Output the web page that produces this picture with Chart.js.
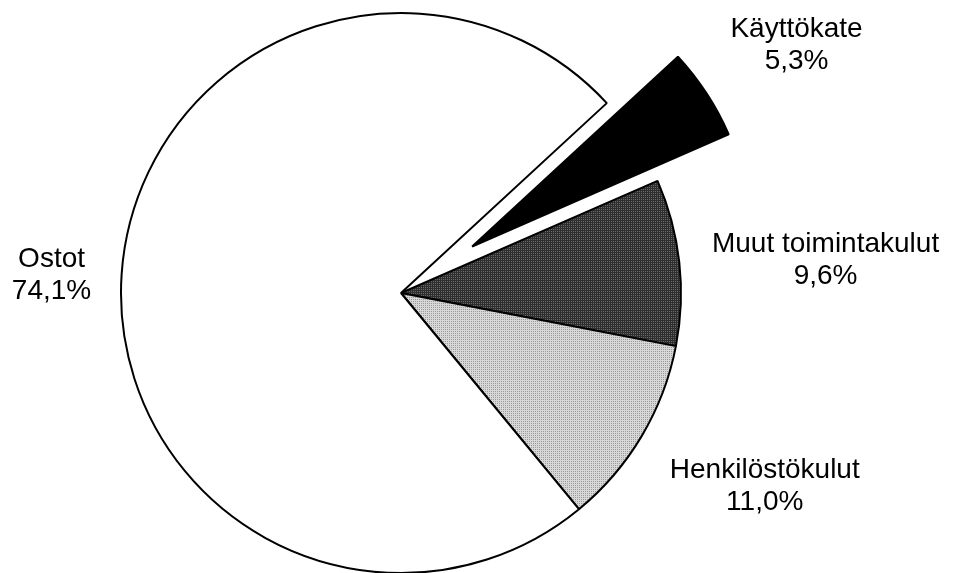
<!DOCTYPE html>
<html>
<head>
<meta charset="utf-8">
<script src="https://cdn.jsdelivr.net/npm/chart.js@4/dist/chart.umd.min.js"></script>
<style>
html, body { margin: 0; padding: 0; background: #ffffff; }
#wrap { width: 953px; height: 573px; position: relative; }
</style>
</head>
<body>
<div id="wrap"><canvas id="c"></canvas></div>
<script>
// ---- data ----
const categories = ['Käyttökate', 'Muut toimintakulut', 'Henkilöstökulut', 'Ostot'];
const shares = [5.3, 9.6, 11.0, 74.1];

// ---- styling helpers ----
function makePattern(base, dot) {
  const c = document.createElement('canvas');
  c.width = 2; c.height = 2;
  const x = c.getContext('2d');
  x.fillStyle = base; x.fillRect(0, 0, 2, 2);
  x.fillStyle = dot; x.fillRect(1, 1, 1, 1);
  return x.createPattern(c, 'repeat');
}
const fills = [
  '#000000',
  makePattern('#2e2e2e', '#6a6a6a'),
  makePattern('#d8d8d8', '#9a9a9a'),
  '#ffffff'
];

// pull one slice out from the centre along its mid-angle
const explodePlugin = {
  id: 'explode',
  afterDatasetUpdate(chart, args, opts) {
    const meta = chart.getDatasetMeta(args.index);
    const dist = opts.distances || [];
    meta.data.forEach((arc, i) => {
      const d = dist[i] || 0;
      if (!d) return;
      const mid = (arc.startAngle + arc.endAngle) / 2;
      arc.x += Math.cos(mid) * d;
      arc.y += Math.sin(mid) * d;
    });
  }
};

// two-line outside labels: name + value with decimal comma
const labelPlugin = {
  id: 'sliceLabels',
  afterDraw(chart, args, opts) {
    const ctx = chart.ctx;
    const area = chart.chartArea;
    const cx = (area.left + area.right) / 2;
    const cy = (area.top + area.bottom) / 2;
    const meta = chart.getDatasetMeta(0);
    const vals = chart.data.datasets[0].data;
    ctx.save();
    ctx.fillStyle = '#000000';
    ctx.font = opts.font;
    ctx.textAlign = 'center';
    ctx.textBaseline = 'alphabetic';
    meta.data.forEach((arc, i) => {
      const p = opts.place[i];
      const a = (arc.startAngle + arc.endAngle) / 2 + p.turn * Math.PI / 180;
      const x = cx + Math.cos(a) * p.dist;
      const y = cy + Math.sin(a) * p.dist;
      const txt = vals[i].toFixed(1).replace('.', ',') + '%';
      ctx.fillText(chart.data.labels[i], x, y - 6);
      ctx.fillText(txt, x, y + 26);
    });
    ctx.restore();
  }
};

new Chart(document.getElementById('c'), {
  type: 'pie',
  data: {
    labels: categories,
    datasets: [{
      data: shares,
      backgroundColor: fills,
      borderColor: '#000000',
      borderWidth: 2,
      radius: 280
    }]
  },
  options: {
    responsive: true,
    maintainAspectRatio: false,
    animation: false,
    rotation: 47.3,
    layout: { padding: { left: 0, right: 151, top: 13, bottom: 0 } },
    plugins: {
      legend: { display: false },
      tooltip: { enabled: false },
      explode: { distances: [85, 0, 0, 0] },
      sliceLabels: {
        font: '28px "Liberation Sans", Arial, sans-serif',
        place: [
          { dist: 468, turn: 0.85 },
          { dist: 426, turn: 1.65 },
          { dist: 411, turn: -3.0 },
          { dist: 350, turn: -0.7 }
        ]
      }
    }
  },
  plugins: [explodePlugin, labelPlugin]
});
</script>
</body>
</html>
